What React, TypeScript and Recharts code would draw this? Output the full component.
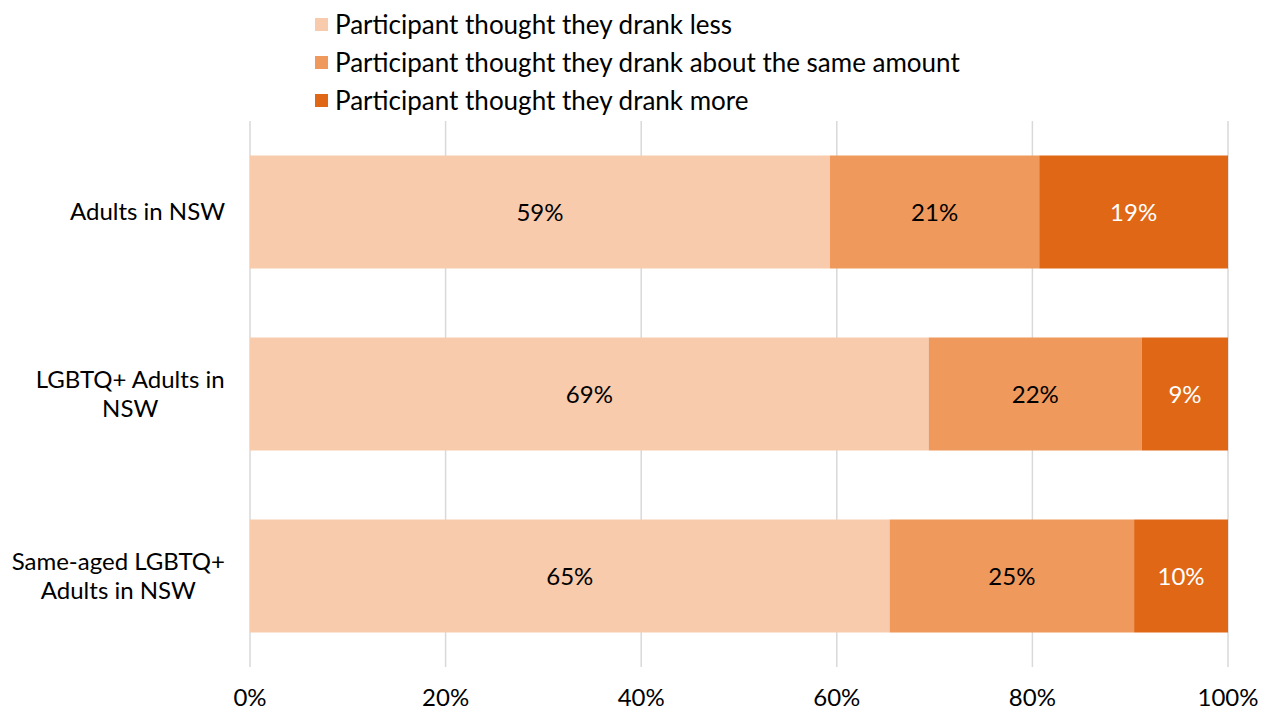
import React from 'react';
import { BarChart, Bar, XAxis, YAxis, CartesianGrid, LabelList } from 'recharts';

const categories = ['Adults in NSW', 'LGBTQ+ Adults in NSW', 'Same-aged LGBTQ+ Adults in NSW'];
const categoryLines: Record<string, string[]> = {
  'Adults in NSW': ['Adults in NSW'],
  'LGBTQ+ Adults in NSW': ['LGBTQ+ Adults in', 'NSW'],
  'Same-aged LGBTQ+ Adults in NSW': ['Same-aged LGBTQ+', 'Adults in NSW'],
};
const drankLess = [59.3, 69.4, 65.4];
const drankSame = [21.4, 21.8, 25.0];
const drankMore = [19.3, 8.8, 9.6];
const xTicks = [0, 20, 40, 60, 80, 100];

const series = [
  { key: 'less', name: 'Participant thought they drank less', color: '#F7CBAC', text: '#000000' },
  { key: 'same', name: 'Participant thought they drank about the same amount', color: '#F0995D', text: '#000000' },
  { key: 'more', name: 'Participant thought they drank more', color: '#E06715', text: '#FFFFFF' },
];

const data = categories.map((name, i) => ({
  name,
  less: drankLess[i],
  same: drankSame[i],
  more: drankMore[i],
}));

const FONT = 'Lato, "Open Sans", sans-serif';
const FONT_SIZE = 24;
const LEGEND_SIZE = 26;

let ctx: CanvasRenderingContext2D | null = null;
const measure = (s: string) => {
  if (!ctx) ctx = document.createElement('canvas').getContext('2d');
  if (!ctx) return s.length * 11;
  ctx.font = `${FONT_SIZE}px ${FONT}`;
  return ctx.measureText(s).width;
};

const CategoryTick = (props: any) => {
  const { x, y, payload } = props;
  const lines = categoryLines[payload.value] || [payload.value];
  const w = Math.max(...lines.map(measure));
  const cx = x - w / 2;
  const lh = 29;
  const y0 = y - ((lines.length - 1) * lh) / 2;
  return (
    <text x={cx} y={y0} textAnchor="middle" fontSize={FONT_SIZE} fontFamily={FONT} fill="#000">
      {lines.map((l, i) => (
        <tspan key={i} x={cx} y={y0 + i * lh} dy="0.35em">
          {l}
        </tspan>
      ))}
    </text>
  );
};

const App = () => {
  return (
    <div style={{ position: 'absolute', left: 0, top: 0, width: 1269, height: 713, background: '#fff' }}>
      <div style={{ position: 'absolute', left: 315, top: 5, fontFamily: FONT, fontSize: LEGEND_SIZE, color: '#000' }}>
        {series.map((s) => (
          <div key={s.key} style={{ display: 'flex', alignItems: 'center', height: 38 }}>
            <span style={{ display: 'inline-block', width: 13, height: 13, background: s.color, marginRight: 7 }} />
            <span>{s.name}</span>
          </div>
        ))}
      </div>
      <BarChart
        width={1269}
        height={713}
        data={data}
        layout="vertical"
        margin={{ top: 121, right: 41, bottom: 0, left: 0 }}
        barCategoryGap="19%"
        style={{ fontFamily: FONT }}
      >
        <CartesianGrid horizontal={false} stroke="#D9D9D9" strokeWidth={1.5} />
        <XAxis
          type="number"
          domain={[0, 100]}
          ticks={xTicks}
          tickFormatter={(v: number) => `${v}%`}
          axisLine={false}
          tickLine={false}
          tickSize={0}
          tickMargin={22}
          height={46}
          tick={{ fontSize: FONT_SIZE, fill: '#000', fontFamily: FONT }}
        />
        <YAxis
          type="category"
          dataKey="name"
          width={250}
          axisLine={false}
          tickLine={false}
          tickSize={0}
          tickMargin={25}
          tick={<CategoryTick />}
        />
        {series.map((s) => (
          <Bar key={s.key} dataKey={s.key} stackId="a" fill={s.color} isAnimationActive={false}>
            <LabelList
              dataKey={s.key}
              position="center"
              formatter={(v: any) => `${Math.round(Number(v))}%`}
              fill={s.text}
              fontSize={FONT_SIZE}
              fontFamily={FONT}
            />
          </Bar>
        ))}
      </BarChart>
    </div>
  );
};

export default App;
